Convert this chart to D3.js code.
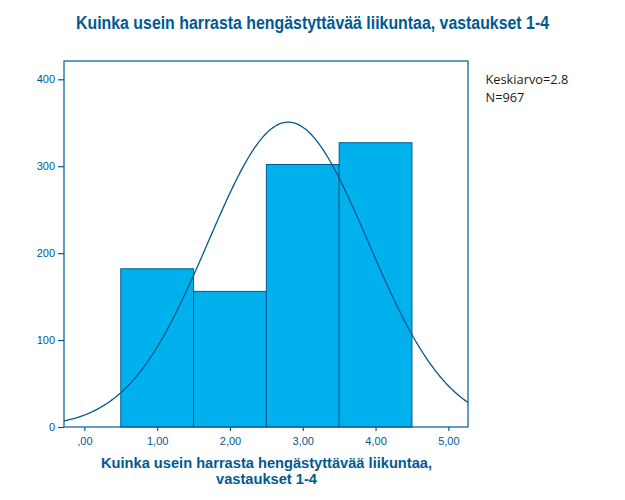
<!DOCTYPE html>
<html>
<head>
	<meta charset="utf-8">
	<title>Hengästyttävä liikunta</title>
</head>
<style type="text/css">
	html, body {margin:0px; padding:0px; background:#fff;}
</style>
<body>

	<svg></svg>

<script src="https://d3js.org/d3.v7.min.js"></script>
<script type="text/javascript">

	// data
	const categories = [1, 2, 3, 4];
	const counts = [182, 156, 302, 327];
	const xTicks = [0, 1, 2, 3, 4, 5];
	const yTicks = [0, 100, 200, 300, 400];
	const meanValue = 2.8;
	const sdValue = 1.10;
	const nValue = 967;

	const width = 625, height = 500;
	const blue = '#005a92';
	const barFill = '#00b1ed';

	const svg = d3.select('svg')
		.attr('width', width)
		.attr('height', height);

	// plot frame
	const plotL = 64, plotR = 468, plotT = 61, plotB = 427;

	let x = d3.scaleLinear().domain([-0.28, 5.27]).range([plotL, plotR]);
	let y = d3.scaleLinear().domain([0, 400]).range([plotB, 79.3]);

	svg.append('clipPath').attr('id', 'plotclip')
		.append('rect')
		.attr('x', plotL).attr('y', plotT)
		.attr('width', plotR - plotL).attr('height', plotB - plotT);

	// bars
	svg.append('g').selectAll('rect')
		.data(categories)
		.enter().append('rect')
		.attr('x', function(d) { return x(d - 0.5); })
		.attr('width', function(d) { return x(d + 0.5) - x(d - 0.5); })
		.attr('y', function(d, i) { return y(counts[i]); })
		.attr('height', function(d, i) { return y(0) - y(counts[i]); })
		.attr('fill', barFill)
		.attr('stroke', blue)
		.attr('stroke-width', 1);

	// normal curve, scaled to bin width 1
	const curvePts = d3.range(-0.5, 5.6, 0.02).map(function(v) {
		let z = (v - meanValue) / sdValue;
		return [v, nValue / (sdValue * Math.sqrt(2 * Math.PI)) * Math.exp(-0.5 * z * z)];
	});

	svg.append('path')
		.datum(curvePts)
		.attr('clip-path', 'url(#plotclip)')
		.attr('fill', 'none')
		.attr('stroke', blue)
		.attr('stroke-width', 1.3)
		.attr('d', d3.line()
			.x(function(d) { return x(d[0]); })
			.y(function(d) { return y(d[1]); })
			.curve(d3.curveBasis));

	// frame
	svg.append('rect')
		.attr('x', plotL).attr('y', plotT)
		.attr('width', plotR - plotL).attr('height', plotB - plotT)
		.attr('fill', 'none')
		.attr('stroke', blue)
		.attr('stroke-width', 1.2);

	// axes
	let xAxis = d3.axisBottom(x)
		.tickValues(xTicks)
		.tickSize(4)
		.tickFormat(function(d) { return d === 0 ? ',00' : d3.format('.2f')(d).replace('.', ','); });

	let yAxis = d3.axisLeft(y)
		.tickValues(yTicks)
		.tickSize(6)
		.tickFormat(d3.format('d'));

	let gx = svg.append('g')
		.attr('transform', 'translate(0,' + plotB + ')')
		.call(xAxis)
		.call(function(g) { g.select('.domain').remove(); });

	let gy = svg.append('g')
		.attr('transform', 'translate(' + plotL + ',0)')
		.call(yAxis)
		.call(function(g) { g.select('.domain').remove(); });

	svg.selectAll('.tick line').attr('stroke', blue).attr('stroke-width', 1.2);
	svg.selectAll('.tick text')
		.attr('fill', blue)
		.style('font-family', '"Liberation Sans", Arial, sans-serif')
		.style('font-size', '11px');
	gx.selectAll('.tick text').attr('y', 10);

	// titles
	svg.append('text')
		.attr('x', 312.5).attr('y', 28.5)
		.attr('text-anchor', 'middle')
		.attr('fill', blue)
		.attr('textLength', 473)
		.attr('lengthAdjust', 'spacingAndGlyphs')
		.style('font-family', '"Liberation Sans", Arial, sans-serif')
		.style('font-weight', 'bold')
		.style('font-size', '17.5px')
		.text('Kuinka usein harrasta hengästyttävää liikuntaa, vastaukset 1-4');

	const axisTitle = ['Kuinka usein harrasta hengästyttävää liikuntaa,', 'vastaukset 1-4'];
	const axisTitleLen = [331, 101];
	svg.append('g').selectAll('text')
		.data(axisTitle)
		.enter().append('text')
		.attr('x', (plotL + plotR) / 2 + 0.5)
		.attr('y', function(d, i) { return 468 + i * 15.8; })
		.attr('text-anchor', 'middle')
		.attr('fill', blue)
		.attr('textLength', function(d, i) { return axisTitleLen[i]; })
		.attr('lengthAdjust', 'spacingAndGlyphs')
		.style('font-family', '"Liberation Sans", Arial, sans-serif')
		.style('font-weight', 'bold')
		.style('font-size', '14px')
		.text(function(d) { return d; });

	// legend stats
	const statLines = ['Keskiarvo=' + meanValue, 'N=' + nValue];
	svg.append('g').selectAll('text')
		.data(statLines)
		.enter().append('text')
		.attr('x', 485.5)
		.attr('y', function(d, i) { return 84.3 + i * 17.4; })
		.attr('fill', '#1a1a1a')
		.style('font-family', '"Open Sans", "Noto Sans", sans-serif')
		.style('font-size', '12.8px')
		.text(function(d) { return d; });

</script>
</body>
</html>
